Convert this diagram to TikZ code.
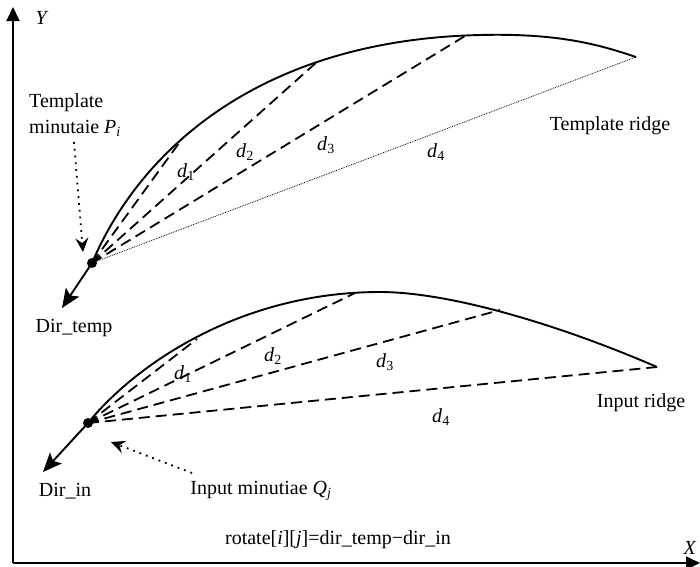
\documentclass[tikz,border=0pt]{standalone}
\usepackage{fontspec}
\setmainfont{Liberation Serif}
\usepackage{tikz}
\usetikzlibrary{arrows.meta, positioning}
\tikzstyle{ridge} = [line width=1.9pt]
\tikzstyle{chord} = [line width=1.8pt, dash pattern=on 11pt off 6pt]
\tikzstyle{fine} = [line width=0.8pt, densely dotted]
\tikzstyle{dirarrow} = [line width=1.9pt, -{Stealth[length=19pt, width=16pt, inset=4pt]}]
\tikzstyle{pointer} = [line width=1.8pt, dash pattern=on 1.8pt off 5pt, -{Stealth[length=14pt, width=13pt, inset=5pt]}]
\tikzstyle{axis} = [line width=1.9pt, -{Triangle[length=14pt, width=13pt]}]
\tikzstyle{minutia} = [circle, fill=black, inner sep=0pt, minimum size=10pt]
\tikzstyle{lbl} = [inner sep=1pt, font=\fontsize{20}{26}\selectfont]

\begin{document}
\begin{tikzpicture}[x=1pt, y=-1pt]
\useasboundingbox (0,0) rectangle (700,566);

% Axes
\coordinate (origin) at (13,563);
\coordinate (ytop) at (13,7);
\coordinate (xend) at (700,563);
\draw [axis] (origin) -- (ytop);
\draw [axis] (origin) -- (xend);
\node (ylabel) [lbl] at (42,18) {\textit{Y}};
\node (xlabel) [lbl] at (690,548) {\textit{X}};

% Template ridge
\node (Pi) [minutia] at (92,263) {};
\coordinate (t1) at (182,139);
\coordinate (t2) at (318,61);
\coordinate (t3) at (465,36);
\coordinate (t4) at (636,57);
\draw [ridge] (Pi.center) .. controls (140,150) and (260,40) .. (480,35)
  .. controls (560,33) and (600,45) .. (t4);
\draw [chord] (Pi.center) -- (t1);
\draw [chord] (Pi.center) -- (t2);
\draw [chord] (Pi.center) -- (t3);
\draw [fine] (Pi.center) -- (t4);
\coordinate (dirT) at (62,308);
\draw [dirarrow] (Pi.center) -- (dirT);

\node (td1) [lbl] at (186,172) {\textit{d}\textsubscript{1}};
\node (td2) [lbl] at (245,152) {\textit{d}\textsubscript{2}};
\node (td3) [lbl] at (326,145) {\textit{d}\textsubscript{3}};
\node (td4) [lbl] at (436,152) {\textit{d}\textsubscript{4}};
\node (tridge) [lbl] at (610,126) {Template ridge};
\node (tmin) [lbl, align=left, anchor=west] at (28,115) {Template\\minutaie \textit{P}\textsubscript{\textit{i}}};
\node (dirtemp) [lbl] at (74,328) {Dir\_temp};
\coordinate (tpoint) at (74,142);
\draw [pointer] (tpoint) -- (83,252);

% Input ridge
\node (Qj) [minutia] at (88,423) {};
\coordinate (q1) at (197,339);
\coordinate (q2) at (355,293);
\coordinate (q3) at (500,310);
\coordinate (q4) at (657,367);
\draw [ridge] (Qj.center) .. controls (135,365) and (240,292) .. (380,292)
  .. controls (450,292) and (560,325) .. (q4);
\draw [chord] (Qj.center) -- (q1);
\draw [chord] (Qj.center) -- (q2);
\draw [chord] (Qj.center) -- (q3);
\draw [chord] (Qj.center) -- (q4);
\coordinate (dirI) at (43,472);
\draw [dirarrow] (Qj.center) -- (dirI);

\node (id1) [lbl] at (183,374) {\textit{d}\textsubscript{1}};
\node (id2) [lbl] at (273,356) {\textit{d}\textsubscript{2}};
\node (id3) [lbl] at (385,362) {\textit{d}\textsubscript{3}};
\node (id4) [lbl] at (441,417) {\textit{d}\textsubscript{4}};
\node (iridge) [lbl] at (641,403) {Input ridge};
\node (dirin) [lbl] at (65,491) {Dir\_in};
\node (imin) [lbl] at (261,491) {Input minutiae \textit{Q}\textsubscript{\textit{j}}};
\coordinate (ipoint) at (192,473);
\draw [pointer] (ipoint) -- (111,442);

% Rotation
\node (rot) [lbl] at (338,540) {rotate[\textit{i}][\textit{j}]=dir\_temp−dir\_in};

\end{tikzpicture}
\end{document}
